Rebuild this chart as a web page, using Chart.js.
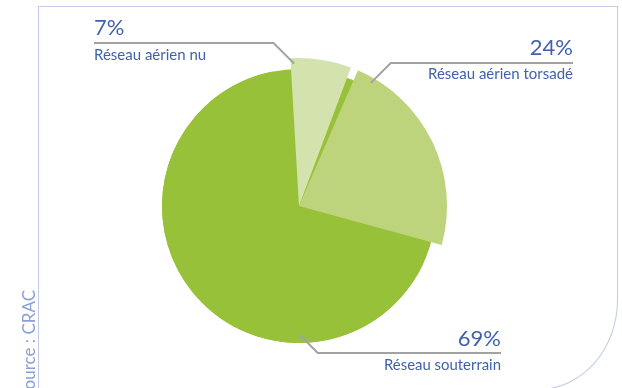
<!DOCTYPE html>
<html lang="fr">
<head>
<meta charset="utf-8">
<title>Réseau électrique</title>
<script src="https://cdn.jsdelivr.net/npm/chart.js@4.4.1/dist/chart.umd.min.js"></script>
<style>
  body { margin: 0; background: #fff; }
  #wrap { position: relative; width: 622px; height: 388px; overflow: hidden; }
  #frame {
    position: absolute; left: 38px; top: 6px; width: 580px; height: 384px;
    box-sizing: border-box; border: 1.5px solid #c2c8ea;
    border-bottom-right-radius: 80px 90px;
  }
  canvas { position: absolute; left: 0; top: 0; }
</style>
</head>
<body>
<div id="wrap">
  <div id="frame"></div>
  <canvas id="chart-reseau"></canvas>
</div>
<script>
const categories = ['Réseau aérien nu', 'Réseau aérien torsadé', 'Réseau souterrain'];
const shares = [7, 24, 69];
const shareLabels = ['7%', '24%', '69%'];
const sliceColors = ['#d4e3ad', '#bdd47c', '#98c13a'];

// where each callout sits: text anchor, line height, and the spot on the slice
const callouts = [
    { side: 'left',  textX: 94,  valueY: 35,  nameY: 60,  lineY: 43,  nameWidth: 113, along: 0.08, depth: 0.99 },
    { side: 'right', textX: 573, valueY: 55,  nameY: 79,  lineY: 63,  nameWidth: 147, along: 0.105, depth: 0.99 },
    { side: 'right', textX: 501, valueY: 346, nameY: 370, lineY: 353, nameWidth: 117, along: 0.29, depth: 0.97 },
];

const textBlue = '#4062aa';
const liftedSlices = 11;

// the two aerial slices stand out a little further than the underground one,
// and a full disc behind shows through the small gap between them
const backdrop = {
    id: 'backdrop',
    beforeDatasetsDraw(chart) {
        const arcs = chart.getDatasetMeta(0).data;
        const base = arcs[2];
        const spacing = chart.data.datasets[0].spacing;
        arcs[0].outerRadius = base.outerRadius + liftedSlices;
        arcs[1].outerRadius = base.outerRadius + liftedSlices;

        const ctx = chart.ctx;
        ctx.save();
        ctx.fillStyle = sliceColors[2];
        ctx.beginPath();
        ctx.arc(base.x, base.y, base.outerRadius + spacing / 2, 0, Math.PI * 2);
        ctx.fill();
        ctx.restore();
    },
};

const calloutLabels = {
    id: 'calloutLabels',
    afterDatasetsDraw(chart) {
        const ctx = chart.ctx;
        const arcs = chart.getDatasetMeta(0).data;
        ctx.save();
        callouts.forEach((c, i) => {
            const arc = arcs[i];
            const angle = arc.startAngle + c.along * (arc.endAngle - arc.startAngle);
            const px = arc.x + Math.cos(angle) * arc.outerRadius * c.depth;
            const py = arc.y + Math.sin(angle) * arc.outerRadius * c.depth;
            const dir = c.side === 'left' ? -1 : 1;
            const kneeX = px + dir * Math.abs(py - c.lineY);

            ctx.strokeStyle = '#a2a2a2';
            ctx.lineWidth = 2;
            ctx.beginPath();
            ctx.moveTo(px, py);
            ctx.lineTo(kneeX, c.lineY);
            ctx.lineTo(c.textX, c.lineY);
            ctx.stroke();

            ctx.fillStyle = textBlue;
            ctx.textAlign = c.side;
            ctx.textBaseline = 'alphabetic';
            ctx.font = '22px Lato';
            ctx.fillText(shareLabels[i], c.textX, c.valueY);
            ctx.font = '15px Lato';
            ctx.fillText(categories[i], c.textX, c.nameY, c.nameWidth);
        });

        // source note running up the left margin
        ctx.fillStyle = '#8a9fd6';
        ctx.font = '17px Lato';
        ctx.translate(35, 290);
        ctx.rotate(-Math.PI / 2);
        ctx.textAlign = 'right';
        ctx.fillText('Source : CRAC', 0, 0);
        ctx.restore();
    },
};

new Chart(document.getElementById('chart-reseau'), {
    type: 'pie',
    data: {
        labels: categories,
        datasets: [{
            data: shares,
            backgroundColor: sliceColors,
            borderWidth: 0,
            spacing: 8,
            clip: false,
        }],
    },
    options: {
        responsive: true,
        maintainAspectRatio: false,
        animation: false,
        rotation: -4,
        layout: {
            padding: { left: 162, right: 186, top: 69, bottom: 45 },
        },
        plugins: {
            legend: { display: false },
            tooltip: { enabled: false },
        },
    },
    plugins: [backdrop, calloutLabels],
});
</script>
</body>
</html>
